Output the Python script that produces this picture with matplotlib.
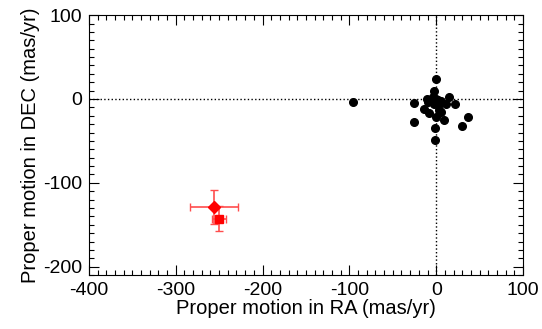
import matplotlib.pyplot as plt
from matplotlib.ticker import MultipleLocator

plt.rcParams['font.family'] = ['Liberation Sans', 'DejaVu Sans']
plt.rcParams['axes.unicode_minus'] = False

# cluster members (black dots)
pm_ra = [-96, 0, -3, -25, -11, -10, -4, 1.5, 3.5, 15, 11, 22, -14, -8,
         3.5, 5.5, 0, 8.5, -25, -1, -1.5, 37, 29.5, 0, -2, 6]
pm_dec = [-3.5, 23.6, 10, -5, 0, -3.5, 2, -1.5, -5.5, 2, -5.5, -5.5, -12, -17,
          -13, -16, -22, -25.6, -27, -34.5, -49, -22, -32.5, 0, -5.5, -2]

# red targets: diamond and square
diam_ra, diam_dec, diam_xerr, diam_yerr = -256, -129, 28, 20
sq_ra, sq_dec, sq_xerr, sq_yerr = -250, -143, 8, 15

fig = plt.figure(figsize=(5.42, 3.29), dpi=100)
ax = fig.add_axes([0.164, 0.164, 0.801, 0.790])

ax.axhline(0, color='black', ls=':', lw=1, zorder=1)
ax.axvline(0, color='black', ls=':', lw=1, zorder=1)

ax.plot(pm_ra, pm_dec, 'o', color='black', markersize=5.5, zorder=3)

ax.errorbar(diam_ra, diam_dec, xerr=diam_xerr, yerr=diam_yerr, fmt='D',
            color='red', ecolor=(1, 0.3, 0.3), elinewidth=1.2, capsize=3,
            markersize=6, zorder=4)
ax.errorbar(sq_ra, sq_dec, xerr=sq_xerr, yerr=sq_yerr, fmt='s',
            color='red', ecolor=(1, 0.3, 0.3), elinewidth=1.2, capsize=3,
            markersize=6, zorder=4)

ax.set_xlim(-400, 100)
ax.set_ylim(-210, 100)
ax.xaxis.set_major_locator(MultipleLocator(100))
ax.xaxis.set_minor_locator(MultipleLocator(10))
ax.yaxis.set_major_locator(MultipleLocator(100))
ax.yaxis.set_minor_locator(MultipleLocator(10))
ax.tick_params(which='both', direction='in', top=True, right=True,
               labelsize=14, width=0.8, pad=5)
ax.tick_params(which='major', length=7)
ax.tick_params(which='minor', length=3.5)

ax.set_xlabel('Proper motion in RA (mas/yr)', fontsize=14.5, labelpad=0)
ax.set_ylabel('Proper motion in DEC (mas/yr)', fontsize=14.5, labelpad=2)

plt.savefig('out.png', dpi=100)
